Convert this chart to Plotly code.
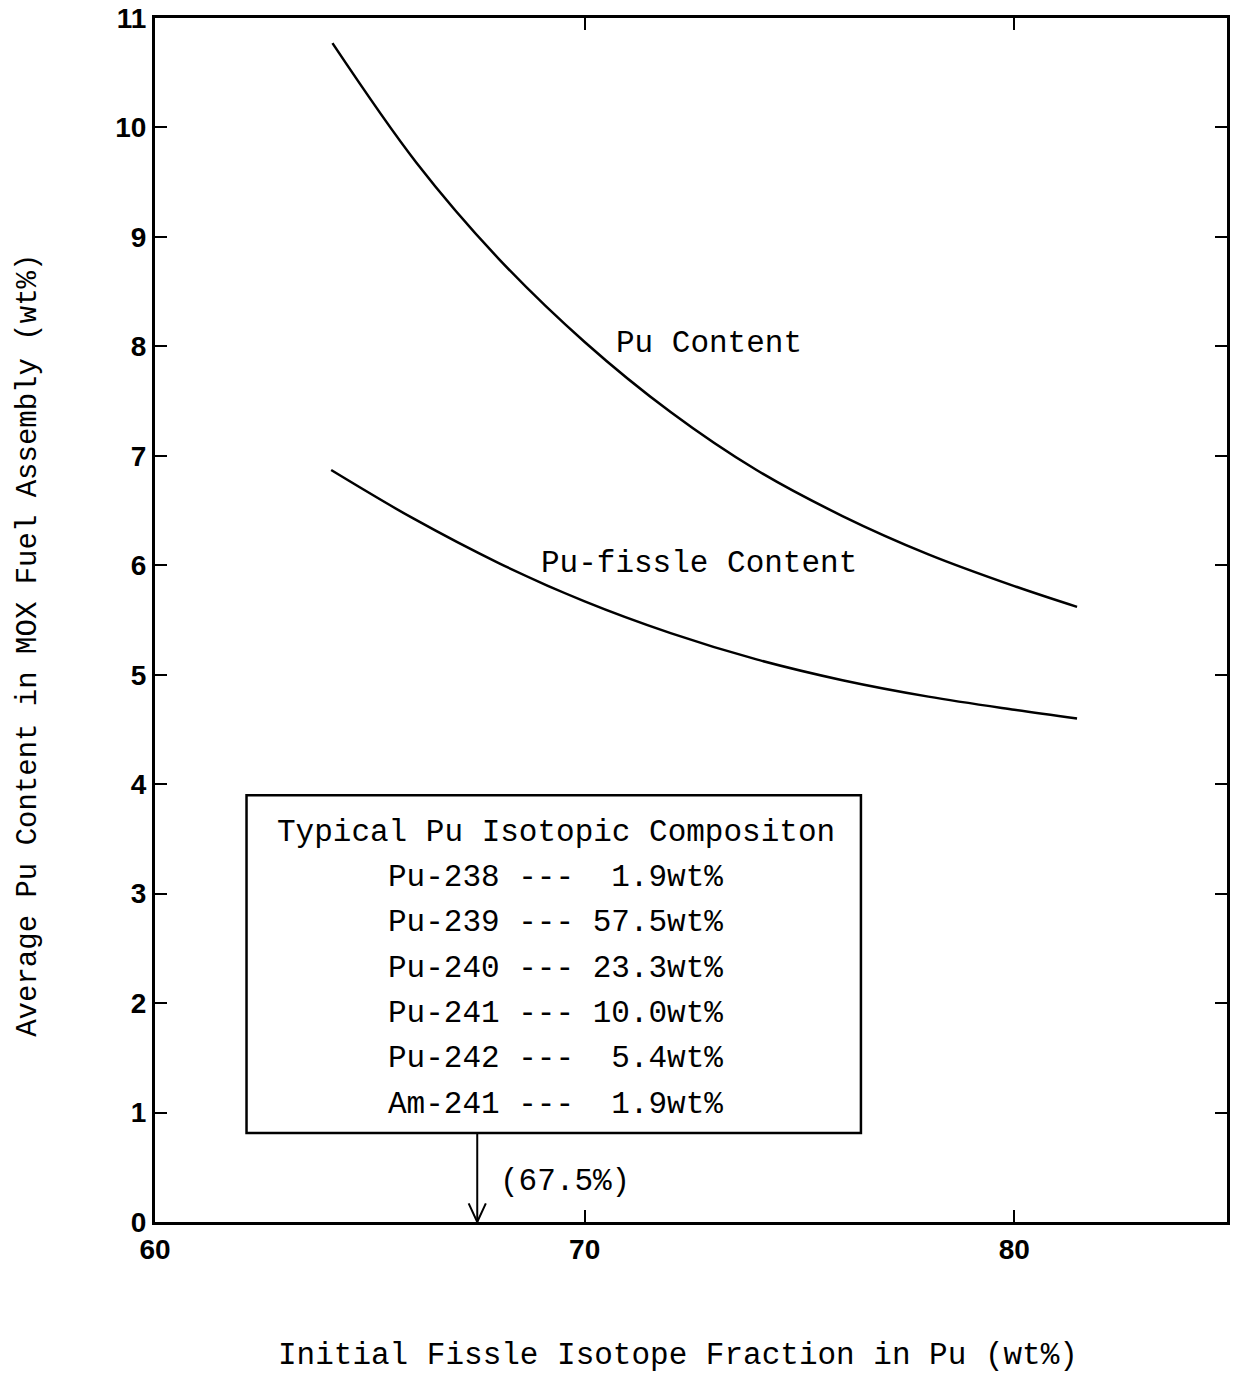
import plotly.graph_objects as go

# ---- data ----
pu_x = [64.13, 66.08, 68.0, 70.0, 72.0, 74.0, 76.0, 78.0, 80.0, 81.46]
pu_y = [10.77, 9.68, 8.80, 8.04, 7.40, 6.87, 6.45, 6.10, 5.81, 5.62]

fis_x = [64.10, 66.0, 68.0, 70.0, 72.0, 74.0, 76.0, 78.0, 80.0, 81.46]
fis_y = [6.87, 6.43, 6.02, 5.67, 5.38, 5.14, 4.95, 4.80, 4.68, 4.60]

isotopes = ["Pu-238", "Pu-239", "Pu-240", "Pu-241", "Pu-242", "Am-241"]
wt_pct = [1.9, 57.5, 23.3, 10.0, 5.4, 1.9]
typical_fissile = 67.5

x_ticks = [60, 70, 80]
y_ticks = list(range(0, 12))

MONO = "Liberation Mono, DejaVu Sans Mono, monospace"
TICKFONT = "Liberation Sans, Arial, sans-serif"

fig = go.Figure()
fig.add_trace(go.Scatter(x=pu_x, y=pu_y, mode="lines", name="Pu Content",
                         line=dict(color="black", width=2.5, shape="spline", smoothing=1.0)))
fig.add_trace(go.Scatter(x=fis_x, y=fis_y, mode="lines", name="Pu-fissle Content",
                         line=dict(color="black", width=2.5, shape="spline", smoothing=1.0)))

ann = []
ann.append(dict(x=72.90, y=8.03, text="Pu Content", showarrow=False,
                font=dict(family=MONO, size=31, color="black")))
ann.append(dict(x=72.67, y=6.02, text="Pu-fissle Content", showarrow=False,
                font=dict(family=MONO, size=31, color="black")))

# composition box
box_x0, box_x1, box_y0, box_y1 = 62.13, 76.43, 0.813, 3.90
fig.add_shape(type="rect", x0=box_x0, x1=box_x1, y0=box_y0, y1=box_y1,
              line=dict(color="black", width=2.5), fillcolor="rgba(0,0,0,0)")
text_cx = 69.33
row_top = 3.563
row_step = 0.4142
ann.append(dict(x=text_cx, y=row_top, text="Typical Pu Isotopic Compositon",
                showarrow=False, font=dict(family=MONO, size=31, color="black")))
for i, (iso, w) in enumerate(zip(isotopes, wt_pct)):
    line = f"{iso} --- {w:4.1f}wt%".replace(" ", "\u00a0")
    ann.append(dict(x=text_cx, y=row_top - row_step * (i + 1), text=line,
                    showarrow=False, font=dict(family=MONO, size=31, color="black")))

# arrow to the typical composition
fig.add_shape(type="line", x0=typical_fissile, x1=typical_fissile, y0=box_y0, y1=0,
              line=dict(color="black", width=2))
fig.add_shape(type="path",
              path=f"M {typical_fissile-0.2},0.17 L {typical_fissile},0 L {typical_fissile+0.2},0.17",
              line=dict(color="black", width=2))
ann.append(dict(x=typical_fissile + 2.05, y=0.37, text=f"({typical_fissile}%)",
                showarrow=False, font=dict(family=MONO, size=31, color="black")))

# axis titles as annotations for exact placement
ann.append(dict(xref="paper", yref="paper", x=0.488, y=-0.111,
                text="Initial Fissle Isotope Fraction in Pu (wt%)", showarrow=False,
                font=dict(family=MONO, size=31, color="black"), yanchor="middle"))
ann.append(dict(xref="paper", yref="paper", x=-0.118, y=0.479, textangle=-90,
                text="Average Pu Content in MOX Fuel Assembly (wt%)", showarrow=False,
                font=dict(family=MONO, size=29, color="black"), xanchor="center"))

axis_common = dict(showline=True, linecolor="black", linewidth=3, mirror="ticks",
                   ticks="inside", ticklen=12, tickwidth=2, tickcolor="black",
                   showgrid=False, zeroline=False,
                   tickfont=dict(family=TICKFONT, size=28, color="black", weight="bold"))

fig.update_layout(
    width=1233, height=1383,
    margin=dict(l=155, r=3, t=18, b=161),
    paper_bgcolor="white", plot_bgcolor="white",
    showlegend=False,
    annotations=ann,
    xaxis=dict(range=[60, 84.95], tickvals=x_ticks, ticktext=[str(v) for v in x_ticks],
               **axis_common),
    yaxis=dict(range=[0, 11], tickvals=y_ticks, ticktext=[str(v) for v in y_ticks],
               **axis_common),
)

fig.write_html("out.html")
